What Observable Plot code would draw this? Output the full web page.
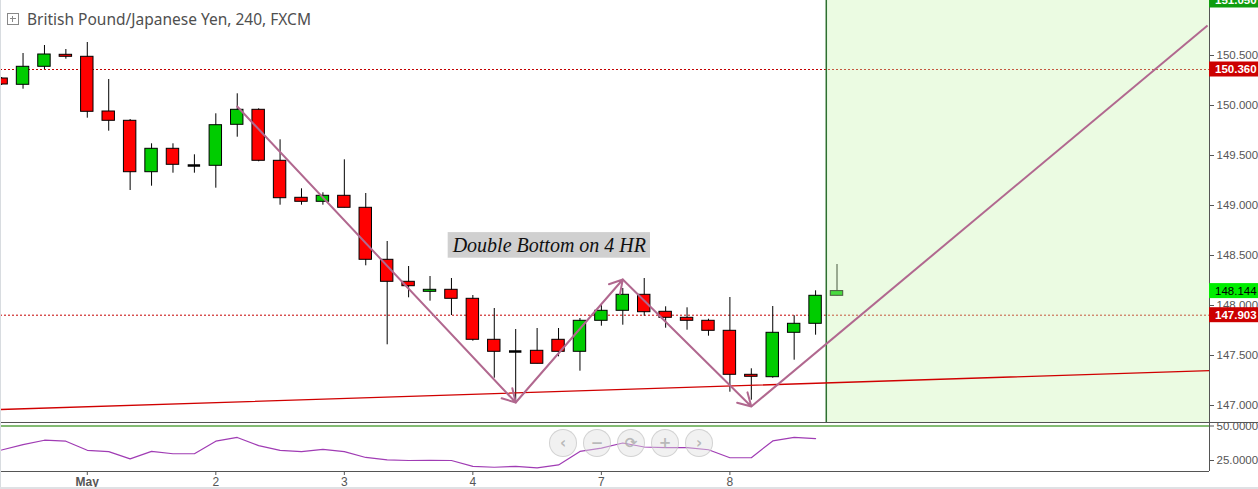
<!DOCTYPE html>
<html><head><meta charset="utf-8">
<script src="https://cdn.jsdelivr.net/npm/d3@7"></script>
<script src="https://cdn.jsdelivr.net/npm/@observablehq/plot@0.6"></script>
<style>
body{margin:0;background:#fff;}
#wrap{position:relative;width:1258px;height:489px;overflow:hidden;font-family:"Liberation Sans",Arial,sans-serif;background:#fff;}
#price{position:absolute;left:0;top:0;}
#rsi{position:absolute;left:0;top:422px;}
#sep{position:absolute;left:0;top:422px;width:1258px;height:1px;background:#555;}
#title{position:absolute;left:7px;top:8px;font-family:"Noto Sans",sans-serif;font-size:15.5px;color:#4f4f4f;white-space:nowrap;display:flex;align-items:center;}
#title .ic{display:inline-block;width:10px;height:10px;border:1px solid #888;position:relative;margin-right:8px;}
#title .ic:before{content:"";position:absolute;left:2px;top:4px;width:6px;height:1px;background:#888;}
#title .ic:after{content:"";position:absolute;left:4px;top:2px;width:1px;height:6px;background:#888;}
.nav{position:absolute;top:429px;width:26px;height:26px;border-radius:50%;border:1px solid rgba(190,190,190,0.6);background:rgba(225,225,225,0.45);color:rgba(170,170,170,0.8);font:bold 15px "DejaVu Sans",sans-serif;text-align:center;line-height:26px;}
#lb{position:absolute;left:0;top:0;width:1px;height:489px;background:#d8dce0;}
#bb{position:absolute;left:0;top:487px;width:1258px;height:2px;background:#dfe1e4;}
</style></head><body>
<div id="wrap">
  <div id="price"></div>
  <div id="rsi"></div>
  <div id="sep"></div>
  <div id="lb"></div>
  <div id="bb"></div>
  <div id="title"><span class="ic"></span><span>British Pound/Japanese Yen, 240, FXCM</span></div>
  <div class="nav" style="left:549px">‹</div>
  <div class="nav" style="left:583px">−</div>
  <div class="nav" style="left:617px">⟳</div>
  <div class="nav" style="left:651px">+</div>
  <div class="nav" style="left:685px">›</div>
</div>
<script>
// ---- data (4-hour bars, index 0 = May 1 00:00) ----
const open  = [150.27,150.207,150.387,150.507,150.487,149.94,149.847,149.333,149.567,149.40,149.397,149.807,149.957,149.447,149.077,149.037,149.097,148.977,148.457,148.237,148.137,148.157,148.067,147.657,147.54,147.547,147.657,147.537,147.847,147.947,148.107,147.937,147.877,147.847,147.747,147.307,147.283,147.727,147.817,148.097];
const high  = [150.28,150.52,150.60,150.56,150.63,150.26,149.86,149.617,149.617,149.507,149.917,150.117,149.967,149.657,149.167,149.127,149.457,149.12,148.64,148.39,148.29,148.27,148.10,147.97,147.76,147.77,147.77,147.87,148.003,148.17,148.27,147.987,147.977,147.863,148.08,147.367,147.99,147.897,148.147,148.41];
const low   = [150.20,150.163,150.36,150.463,149.873,149.743,149.15,149.193,149.323,149.323,149.173,149.683,149.437,149.003,149.003,149.003,148.977,148.397,147.607,148.077,148.043,147.90,147.643,147.273,147.023,147.417,147.487,147.343,147.793,147.803,147.893,147.773,147.753,147.693,147.133,147.053,147.273,147.453,147.703,148.097];
const close = [150.21,150.387,150.51,150.487,149.937,149.847,149.333,149.567,149.407,149.40,149.803,149.957,149.447,149.073,149.037,149.097,148.977,148.457,148.237,148.193,148.157,148.067,147.657,147.537,147.54,147.417,147.537,147.847,147.947,148.107,147.933,147.877,147.847,147.747,147.307,147.287,147.727,147.817,148.097,148.144];
const firstBar = -4;
const rsi = [32.6,36.5,39.7,39.0,32.4,31.4,26.2,31.6,29.9,29.9,39.0,41.7,35.8,32.4,31.4,33.1,31.4,27.2,25.5,25.0,25.2,25.0,20.8,20.1,20.8,19.6,21.8,31.6,34.0,37.7,34.8,34.3,34.3,32.8,27.0,27.0,39.2,41.7,40.9];
const dayTicks  = [0, 6, 12, 18, 24, 30];
const dayLabels = ["May", "2", "3", "4", "7", "8"];
const priceTicks = [147, 147.5, 148, 148.5, 149, 149.5, 150, 150.5];
const rsiTicks = [25, 50];
const hLevels = [150.36, 147.903];
const priceTags = [151.05, 150.36, 148.144, 147.903];
const supportI = [-4.05, 52.39];
const supportP = [146.96, 147.349];
const zigI = [7, 20, 25, 31, 52.3];
const zigP = [149.99, 147.03, 148.26, 146.99, 150.80];
const forecastStart = [34.5];
const noteText = ["Double Bottom on 4 HR"];
const noteI = [21.57];
const noteP = [148.60];

// ---- derived tables ----
const candles = open.map((o, k) => ({i: k + firstBar, o, h: high[k], l: low[k], c: close[k]}));
const rsiData = rsi.map((v, k) => ({i: k + firstBar, v}));
const support = supportI.map((i, k) => ({i, p: supportP[k]}));
const zig = zigI.map((i, k) => ({i, p: zigP[k]}));
const arrows = d3.pairs(zig).slice(0, 3).map(([a, b]) => ({i1: a.i, p1: a.p, i2: b.i, p2: b.p}));
const tail = d3.pairs(zig).slice(3).map(([a, b]) => ({i1: a.i, p1: a.p, i2: b.i, p2: b.p}));
const notes = noteText.map((t, k) => ({t, i: noteI[k], p: noteP[k]}));

const W = 1258;
const xDomain = [-4.052, 52.39];
const pDomain = [146.82, 151.05];
const hw = 0.29;
const isDoji = d => Math.abs(d.c - d.o) < 0.003;

const price = Plot.plot({
  width: W, height: 423, marginLeft: 0, marginRight: 49, marginTop: 0, marginBottom: 0,
  x: {domain: xDomain, axis: null, label: null},
  y: {domain: pDomain, axis: null, label: null},
  style: {background: "transparent", color: "#555", fontFamily: "Liberation Sans, Arial, sans-serif", fontSize: "11.5px"},
  marks: [
    Plot.ruleY(hLevels, {stroke: "#c40000", strokeDasharray: "2,2"}),
    Plot.ruleX(candles, {x: "i", y1: "l", y2: "h", stroke: "#000"}),
    Plot.rect(candles.filter(d => d.c > d.o), {x1: d => d.i - hw, x2: d => d.i + hw, y1: "o", y2: "c", fill: "#00cc00", stroke: "#000"}),
    Plot.rect(candles.filter(d => d.c < d.o && !isDoji(d)), {x1: d => d.i - hw, x2: d => d.i + hw, y1: "o", y2: "c", fill: "#ff0000", stroke: "#000"}),
    Plot.ruleY(candles.filter(isDoji), {y: "c", x1: d => d.i - hw, x2: d => d.i + hw, stroke: "#000", strokeWidth: 2.5}),
    Plot.rect(forecastStart, {x1: d => d, x2: () => xDomain[1], y1: () => pDomain[0], y2: () => pDomain[1], fill: "#c8f5b0", fillOpacity: 0.36}),
    Plot.ruleX(forecastStart, {stroke: "#2e7030", strokeWidth: 1.5}),
    Plot.line(support, {x: "i", y: "p", stroke: "#d00000", strokeWidth: 1.3}),
    Plot.arrow(arrows, {x1: "i1", y1: "p1", x2: "i2", y2: "p2", stroke: "#b1688f", strokeWidth: 2, headLength: 11}),
    Plot.link(tail, {x1: "i1", y1: "p1", x2: "i2", y2: "p2", stroke: "#b1688f", strokeWidth: 2}),
    Plot.text(notes, {x: "i", y: "p", text: "t", fontFamily: "Liberation Serif, serif", fontStyle: "italic", fontSize: 20, fill: "#111"}),
    Plot.ruleX([xDomain[1]], {stroke: "#555"}),
    Plot.axisY({anchor: "right", ticks: priceTicks, tickFormat: d => d.toFixed(3), tickSize: 4, tickPadding: 3, fontSize: 11.5, label: null})
  ]
});
document.getElementById("price").appendChild(price);

// background for the annotation and price tags, positioned with the plot's scales
const ps = price.scale("y"), xs = price.scale("x");
const svg = d3.select(price);
svg.selectAll("text").filter(function() { return noteText.includes(this.textContent); }).each(function() {
  const b = this.getBBox();
  const cy = b.y + b.height / 2;
  d3.select(this.parentNode).insert("rect", () => this)
    .attr("transform", this.getAttribute("transform"))
    .attr("x", b.x - 4).attr("y", cy - 12.8).attr("width", b.width + 8).attr("height", 25.6)
    .attr("fill", "#d0d0d0");
});
const tagFill = ["#0f9d0f", "#cc0000", "#00ee00", "#cc0000"];
const tagText = ["#fff", "#fff", "#000", "#fff"];
const ax = xs.apply(xDomain[1]);
priceTags.forEach((v, k) => {
  const y = ps.apply(v);
  svg.append("rect").attr("x", ax).attr("y", y - 7.5).attr("width", W - ax).attr("height", 15).attr("fill", tagFill[k]);
  svg.append("text").attr("x", ax + 6).attr("y", y).attr("dy", "0.36em").attr("text-anchor", "start")
    .attr("fill", tagText[k]).attr("font-weight", k === 2 ? "normal" : "bold")
    .attr("font-size", 11.5).attr("font-family", "Liberation Sans, Arial, sans-serif")
    .text(v.toFixed(3));
});

const rDomain = [17.03, 52.54];
const rsiPlot = Plot.plot({
  width: W, height: 67, marginLeft: 0, marginRight: 49, marginTop: 0, marginBottom: 18,
  x: {domain: xDomain, axis: null, label: null},
  y: {domain: rDomain, axis: null, label: null},
  style: {background: "transparent", color: "#555", fontFamily: "Liberation Sans, Arial, sans-serif", fontSize: "11.5px"},
  marks: [
    Plot.ruleY([50], {stroke: "#5aa544", strokeWidth: 1.3}),
    Plot.line(rsiData, {x: "i", y: "v", stroke: "#a03cb4", strokeWidth: 1.2}),
    Plot.ruleY([rDomain[0]], {stroke: "#555"}),
    Plot.ruleX([xDomain[1]], {stroke: "#555"}),
    Plot.axisY({anchor: "right", ticks: rsiTicks, tickFormat: d => d.toFixed(4), tickSize: 4, tickPadding: 3, fontSize: 11.5, label: null}),
    Plot.axisX({anchor: "bottom", ticks: dayTicks, tickFormat: d => dayLabels[dayTicks.indexOf(d)], tickSize: 4, tickPadding: 2, fontSize: 12, label: null})
  ]
});
document.getElementById("rsi").appendChild(rsiPlot);
d3.select(rsiPlot).selectAll("text").filter(function() { return this.textContent === "May"; }).attr("font-weight", "bold");
</script>
</body></html>
